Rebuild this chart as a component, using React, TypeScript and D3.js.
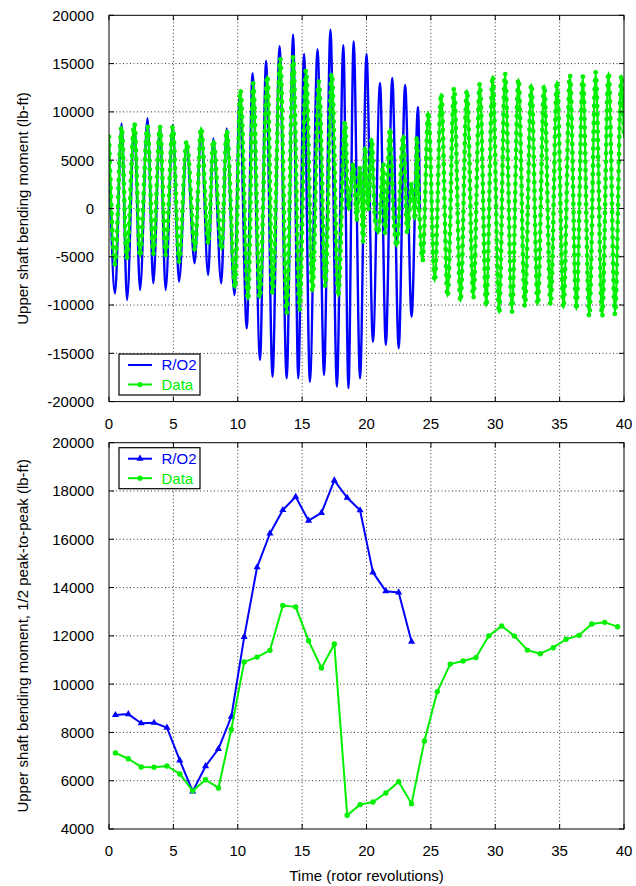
import React from "react";
import * as d3 from "d3";

// Axis ticks
const revTicks = [0, 5, 10, 15, 20, 25, 30, 35, 40];
const momentTicks = [-20000, -15000, -10000, -5000, 0, 5000, 10000, 15000, 20000];
const halfTicks = [4000, 6000, 8000, 10000, 12000, 14000, 16000, 18000, 20000];

// Upper shaft bending moment time history, R/O2 prediction (turning points)
const roTime = [
  0.0, 0.47, 0.98, 1.4, 1.97, 2.41, 2.99, 3.44, 3.96, 4.4, 4.95, 5.44, 6.03, 6.65, 7.15, 7.7,
  8.1, 8.72, 9.14, 9.74, 10.15, 10.7, 11.15, 11.73, 12.2, 12.7, 13.25, 13.8, 14.3, 14.7, 15.15,
  15.6, 16.2, 16.7, 17.2, 17.7, 18.2, 18.6, 19.0, 19.5, 20.0, 20.5, 21.05, 21.5, 22.0, 22.5,
  23.0, 23.5, 24.0, 24.15,
];
const roMoment = [
  6500, -8790, 8800, -9480, 8810, -8440, 9335, -7750, 8540, -8440, 8640, -7580, 6570, -5680,
  8120, -6890, 7260, -7750, 8290, -8960, 11500, -12410, 14000, -15690, 15300, -17420, 16800,
  -17590, 18000, -17590, 16000, -17940, 16500, -17250, 18500, -18450, 16900, -18600, 17300,
  -17590, 16000, -13800, 13000, -14140, 13500, -14480, 12800, -11210, 10500, -300,
];

// Measured upper shaft bending moment time history (turning points)
const dataTime = [
  0.0, 0.47, 0.98, 1.37, 1.97, 2.41, 2.99, 3.44, 3.96, 4.4, 4.95, 5.44, 6.03, 6.68, 7.15, 7.72,
  8.1, 8.75, 9.14, 9.79, 10.2, 10.8, 11.2, 11.7, 12.3, 12.7, 13.3, 13.8, 14.3, 14.8, 15.3, 15.8,
  16.3, 16.8, 17.3, 17.8, 18.33, 18.59, 18.98, 19.24, 19.5, 19.75, 19.88, 20.14, 20.4, 20.66,
  20.92, 21.3, 21.44, 21.83, 22.08, 22.34, 22.86, 23.17, 23.51, 23.77, 23.9, 24.1, 24.36, 24.8,
  25.3, 25.8, 26.3, 26.8, 27.3, 27.8, 28.3, 28.8, 29.3, 29.8, 30.3, 30.76, 31.3, 31.8, 32.3,
  32.8, 33.3, 33.8, 34.3, 34.8, 35.3, 35.8, 36.3, 36.8, 37.3, 37.8, 38.3, 38.8, 39.3, 39.8, 40.0,
];
const dataMoment = [
  7430, -5800, 8465, -5200, 8810, -5000, 8500, -4700, 8465, -4800, 8465, -5500, 6985, -4300,
  8362, -3700, 7088, -4300, 8120, -8270, 12300, -9480, 12960, -9300, 13750, -8790, 15550, -10860,
  15720, -10510, 14340, -8620, 13130, -8100, 14000, -9140, 9000, -180, 4670, -1200, 4320, -3500,
  6390, -180, 7260, -1200, -2580, 4670, -2600, 8300, -180, -3960, 7600, -2580, 2600, -1200, 7430,
  -180, -5400, 10020, -7580, 11920, -9140, 12500, -9650, 12270, -9300, 12960, -10170, 13750,
  -10860, 14000, -10690, 13410, -10170, 12890, -10000, 12780, -10000, 13200, -10340, 13820,
  -10510, 13650, -11210, 14100, -11210, 14100, -11000, 13820, 7300,
];

// Half peak-to-peak per revolution
const roRev = [
  0.5, 1.5, 2.5, 3.5, 4.5, 5.5, 6.5, 7.5, 8.5, 9.5, 10.5, 11.5, 12.5, 13.5, 14.5, 15.5, 16.5,
  17.5, 18.5, 19.5, 20.5, 21.5, 22.5, 23.5,
];
const roHalf = [
  8720, 8760, 8380, 8400, 8200, 6840, 5560, 6600, 7320, 8650, 11950, 14840, 16240, 17210, 17760,
  16770, 17090, 18440, 17720, 17200, 14630, 13850, 13800, 11760,
];
const dataRev = [
  0.5, 1.5, 2.5, 3.5, 4.5, 5.5, 6.5, 7.5, 8.5, 9.5, 10.5, 11.5, 12.5, 13.5, 14.5, 15.5, 16.5,
  17.5, 18.5, 19.5, 20.5, 21.5, 22.5, 23.5, 24.5, 25.5, 26.5, 27.5, 28.5, 29.5, 30.5, 31.5, 32.5,
  33.5, 34.5, 35.5, 36.5, 37.5, 38.5, 39.5,
];
const dataHalf = [
  7150, 6910, 6570, 6560, 6610, 6280, 5580, 6040, 5700, 8120, 10920, 11120, 11400, 13260, 13200,
  11800, 10670, 11660, 4570, 5010, 5120, 5490, 5960, 5050, 7650, 9690, 10830, 10960, 11100, 12000,
  12410, 11990, 11410, 11260, 11510, 11860, 12020, 12490, 12560, 12380,
];

const BLUE = "#0000ff";
const GREEN = "#00f000";
const FONT = "'Liberation Sans', Arial, Helvetica, sans-serif";

const X0 = 109;
const X1 = 624;
const x = d3.scaleLinear().domain([0, 40]).range([X0, X1]);
const yTop = d3.scaleLinear().domain([-20000, 20000]).range([401.6, 15.3]);
const yBot = d3.scaleLinear().domain([4000, 20000]).range([829, 442.7]);

type Scale = d3.ScaleLinear<number, number>;

function Grid({ y, yTicks }: { y: Scale; yTicks: number[] }) {
  const [yb, yt] = y.range();
  return (
    <g>
      {revTicks.slice(1, -1).map((t) => (
        <line key={"gx" + t} x1={x(t)} x2={x(t)} y1={yt} y2={yb} stroke="#333" strokeWidth={1}
          strokeDasharray="1 2.5" />
      ))}
      {yTicks.slice(1, -1).map((t) => (
        <line key={"gy" + t} x1={X0} x2={X1} y1={y(t)} y2={y(t)} stroke="#333" strokeWidth={1}
          strokeDasharray="1 2.5" />
      ))}
    </g>
  );
}

function Axes({ y, yTicks }: { y: Scale; yTicks: number[] }) {
  const [yb, yt] = y.range();
  const tick = 5;
  return (
    <g fontFamily={FONT} fontSize={15} fill="#000">
      <rect x={X0} y={yt} width={X1 - X0} height={yb - yt} fill="none" stroke="#000" strokeWidth={1} />
      {revTicks.map((t) => (
        <g key={"tx" + t}>
          <line x1={x(t)} x2={x(t)} y1={yb} y2={yb - tick} stroke="#000" />
          <line x1={x(t)} x2={x(t)} y1={yt} y2={yt + tick} stroke="#000" />
          <text x={x(t)} y={yb + 27} textAnchor="middle">{t}</text>
        </g>
      ))}
      {yTicks.map((t) => (
        <g key={"ty" + t}>
          <line x1={X0} x2={X0 + tick} y1={y(t)} y2={y(t)} stroke="#000" />
          <line x1={X1} x2={X1 - tick} y1={y(t)} y2={y(t)} stroke="#000" />
          <text x={94} y={y(t)} dy="0.36em" textAnchor="end">{t}</text>
        </g>
      ))}
    </g>
  );
}

function Legend({ top, markers }: { top: number; markers: boolean }) {
  const bx = 119;
  const bw = 81;
  const bh = 41;
  const r1 = top + 11;
  const r2 = top + 30.5;
  const tri = d3.symbol().type(d3.symbolTriangle).size(22)() as string;
  return (
    <g fontFamily={FONT} fontSize={15}>
      <rect x={bx} y={top} width={bw} height={bh} fill="#fff" stroke="#000" strokeWidth={1.2} />
      <line x1={128} x2={152} y1={r1} y2={r1} stroke={BLUE} strokeWidth={2} />
      {markers && <path d={tri} transform={`translate(140,${r1})`} fill={BLUE} />}
      <text x={161.5} y={r1} dy="0.36em" fill={BLUE}>R/O2</text>
      <line x1={128} x2={152} y1={r2} y2={r2} stroke={GREEN} strokeWidth={2} />
      <circle cx={140} cy={r2} r={2.6} fill={GREEN} />
      <text x={161.5} y={r2} dy="0.36em" fill={GREEN}>Data</text>
    </g>
  );
}

export default function App() {
  const roPts = roTime.map((t, i) => [t, roMoment[i]] as [number, number]);
  const dataPts = dataTime.map((t, i) => [t, dataMoment[i]] as [number, number]);
  const lineTop = d3
    .line<[number, number]>()
    .x((d) => x(d[0]))
    .y((d) => yTop(d[1]))
    .curve(d3.curveMonotoneX);
  const lineBot = d3
    .line<[number, number]>()
    .x((d) => x(d[0]))
    .y((d) => yBot(d[1]));
  const roHalfPts = roRev.map((t, i) => [t, roHalf[i]] as [number, number]);
  const dataHalfPts = dataRev.map((t, i) => [t, dataHalf[i]] as [number, number]);
  const tri = d3.symbol().type(d3.symbolTriangle).size(22)() as string;

  return (
    <svg width={636} height={886} style={{ position: "absolute", left: 0, top: 0, background: "#fff" }}
      fontFamily={FONT}>
      <rect width={636} height={886} fill="#fff" />
      <defs>
        <clipPath id="clipTop">
          <rect x={X0} y={15.3} width={X1 - X0} height={401.6 - 15.3} />
        </clipPath>
        <clipPath id="clipBot">
          <rect x={X0} y={442.7} width={X1 - X0} height={829 - 442.7} />
        </clipPath>
      </defs>

      {/* Time history panel */}
      <Grid y={yTop} yTicks={momentTicks} />
      <g clipPath="url(#clipTop)">
        <path d={lineTop(roPts) as string} fill="none" stroke={BLUE} strokeWidth={2.4} strokeLinejoin="round" />
        <path d={lineTop(dataPts) as string} fill="none" stroke={GREEN} strokeWidth={2.2} strokeLinejoin="round" />
        <path d={lineTop(dataPts) as string} fill="none" stroke={GREEN} strokeWidth={4.8}
          strokeLinecap="round" strokeDasharray="0 8.5" />
      </g>
      <Axes y={yTop} yTicks={momentTicks} />
      <Legend top={354} markers={false} />
      <text transform={`translate(28,${(15.3 + 401.6) / 2}) rotate(-90)`} textAnchor="middle" fontSize={15}>
        Upper shaft bending moment (lb-ft)
      </text>

      {/* Half peak-to-peak panel */}
      <Grid y={yBot} yTicks={halfTicks} />
      <g clipPath="url(#clipBot)">
        <path d={lineBot(roHalfPts) as string} fill="none" stroke={BLUE} strokeWidth={2} strokeLinejoin="round" />
        {roHalfPts.map((d, i) => (
          <path key={"rt" + i} d={tri} transform={`translate(${x(d[0])},${yBot(d[1])})`} fill={BLUE} />
        ))}
        <path d={lineBot(dataHalfPts) as string} fill="none" stroke={GREEN} strokeWidth={2} strokeLinejoin="round" />
        {dataHalfPts.map((d, i) => (
          <circle key={"dc" + i} cx={x(d[0])} cy={yBot(d[1])} r={2.7} fill={GREEN} />
        ))}
      </g>
      <Axes y={yBot} yTicks={halfTicks} />
      <Legend top={447.7} markers={true} />
      <text transform={`translate(28,${(442.7 + 829) / 2}) rotate(-90)`} textAnchor="middle" fontSize={15}>
        Upper shaft bending moment, 1/2 peak-to-peak (lb-ft)
      </text>

      <text x={(X0 + X1) / 2} y={881} textAnchor="middle" fontSize={15}>
        Time (rotor revolutions)
      </text>
    </svg>
  );
}
